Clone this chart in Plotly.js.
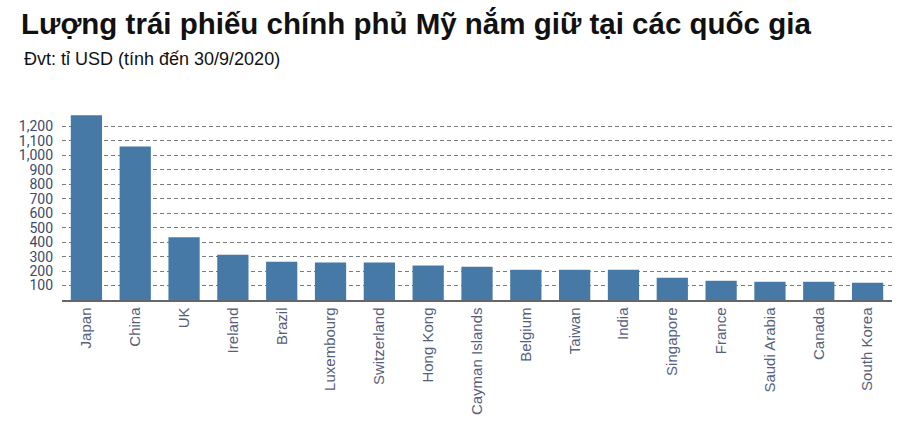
<!DOCTYPE html>
<html>
<head>
<meta charset="utf-8">
<script src="https://cdn.plot.ly/plotly-3.0.1.min.js"></script>
<style>
  html, body { margin: 0; padding: 0; background: #fff; }
  #chart { width: 913px; height: 431px; }
</style>
</head>
<body>
<div id="chart"></div>
<script>
const countries = [
  'Japan', 'China', 'UK', 'Ireland', 'Brazil', 'Luxembourg', 'Switzerland',
  'Hong Kong', 'Cayman Islands', 'Belgium', 'Taiwan', 'India', 'Singapore',
  'France', 'Saudi Arabia', 'Canada', 'South Korea',
];
// tỉ USD, 30/9/2020
const holdings = [
  1277, 1061, 434, 313, 264, 260, 260,
  239, 230, 209, 209, 209, 154,
  133, 126, 126, 119,
];
const yTicks = [100, 200, 300, 400, 500, 600, 700, 800, 900, 1000, 1100, 1200];

const BAR_COLOR = '#4679a6';

const trace = {
  type: 'bar',
  x: countries,
  y: holdings,
  marker: { color: BAR_COLOR },
  hovertemplate: '%{x}: %{y:,}<extra></extra>',
};

const layout = {
  width: 913,
  height: 431,
  margin: { t: 112, r: 21, b: 131, l: 62 },
  paper_bgcolor: '#fff',
  plot_bgcolor: '#fff',
  bargap: 0.36,
  showlegend: false,
  title: {
    text: 'Lượng trái phiếu chính phủ Mỹ nắm giữ tại các quốc gia',
    font: { family: 'Liberation Sans, Arial, sans-serif', size: 29.5, color: '#111', weight: 'bold' },
    xref: 'container', yref: 'container',
    x: 21 / 913, xanchor: 'left',
    y: 1 - 24 / 431, yanchor: 'middle',
  },
  annotations: [{
    text: 'Đvt: tỉ USD (tính đến 30/9/2020)',
    xref: 'paper', yref: 'paper',
    x: -0.0477, y: 1.28,
    xanchor: 'left', yanchor: 'middle',
    showarrow: false,
    font: { family: 'Liberation Sans, Arial, sans-serif', size: 18, color: '#111' },
  }],
  xaxis: {
    type: 'category',
    tickangle: -90,
    showgrid: false,
    showline: true,
    linecolor: '#666',
    linewidth: 1.5,
    ticks: '',
    ticklabelstandoff: 0,
    tickfont: { family: 'Liberation Sans, Arial, sans-serif', size: 15, color: '#56607a' },
    fixedrange: true,
  },
  yaxis: {
    range: [0, 1300],
    tickvals: yTicks,
    tickformat: ',',
    showgrid: true,
    gridcolor: '#7a7a7a',
    gridwidth: 1,
    griddash: '4px,3px',
    zeroline: false,
    showline: false,
    ticks: '',
    ticklabelstandoff: 8,
    tickfont: { family: 'Roboto, sans-serif', size: 14, color: '#3b4a6e' },
    fixedrange: true,
  },
};

Plotly.newPlot('chart', [trace], layout, { displayModeBar: false, staticPlot: true });
</script>
</body>
</html>
